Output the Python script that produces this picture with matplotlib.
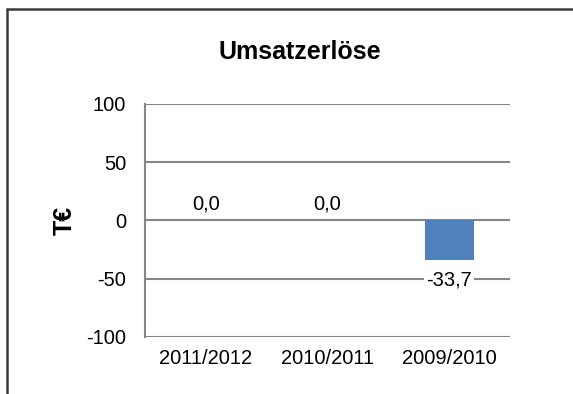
import matplotlib.pyplot as plt
from matplotlib.patches import Rectangle

plt.rcParams['font.family'] = ['Liberation Sans', 'DejaVu Sans']

years = ['2011/2012', '2010/2011', '2009/2010']
revenue = [0.0, 0.0, -33.7]
yticks = [-100, -50, 0, 50, 100]

grid_col = '#868686'
fs = 14.5

fig = plt.figure(figsize=(5.73, 3.94), dpi=100)
ax = fig.add_axes([145 / 573, 1 - 337 / 394, 365 / 573, 233 / 394])

# chart border, running off the right and bottom edge
fig.patches.append(Rectangle((7 / 573, -0.05), 1.0, 1 - 9 / 394 + 0.05,
                             transform=fig.transFigure, fill=False,
                             edgecolor='#3a3a3a', linewidth=1.8, zorder=0))

x = range(len(years))
bars = ax.bar(x, revenue, width=0.4, color='#4f81bd', zorder=3)

ax.set_ylim(-100, 100)
ax.set_xlim(-0.5, 2.5)
ax.set_yticks(yticks)
ax.set_yticklabels([str(v) for v in yticks], fontsize=fs)
ax.set_xticks(list(x))
ax.set_xticklabels(years, fontsize=fs)
ax.tick_params(axis='both', length=0)
ax.tick_params(axis='y', pad=13.5)
ax.tick_params(axis='x', pad=9)

for v in yticks:
    ax.axhline(v, color=grid_col, linewidth=1.5, zorder=1)

for s in ['top', 'right', 'bottom']:
    ax.spines[s].set_visible(False)
ax.spines['left'].set_color(grid_col)
ax.spines['left'].set_linewidth(1.5)

for xi, v in zip(x, revenue):
    txt = f'{v:.1f}'.replace('.', ',')
    if v < 0:
        ax.annotate(txt, (xi, v), xytext=(0, -14.5), textcoords='offset points',
                    ha='center', va='center', fontsize=fs, zorder=4,
                    bbox=dict(facecolor='white', edgecolor='none', pad=1.5))
    else:
        ax.annotate(txt, (xi, v), xytext=(0, 12), textcoords='offset points',
                    ha='center', va='center', fontsize=fs, zorder=4)

ax.set_ylabel('T€', fontsize=18, fontweight='bold', labelpad=7)
fig.text(300 / 573, 1 - 52 / 394, 'Umsatzerlöse', ha='center', va='center',
         fontsize=18, fontweight='bold')

fig.savefig('out.png', dpi=100)
